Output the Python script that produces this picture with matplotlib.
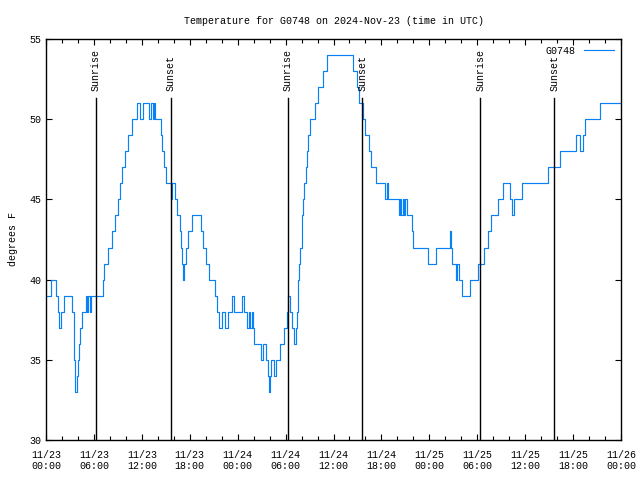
import matplotlib
matplotlib.use("Agg")
import matplotlib.pyplot as plt
from matplotlib.ticker import MultipleLocator

# temperature readings: hours since 11/23 00:00 UTC, degrees F (value holds until next entry)
hours = [0.15, 0.6, 1.27, 1.52, 1.65, 1.85, 2.2, 3.3, 3.45, 3.55, 3.62, 3.69, 3.82, 3.99,
         4.15, 4.28, 4.49, 4.99, 5.15, 5.3, 5.45, 5.6, 7.08, 7.2, 7.75, 8.29, 8.58, 8.96,
         9.25, 9.54, 9.84, 10.21, 10.71, 11.45, 11.72, 12.1, 12.85, 13.15, 13.35, 13.5, 13.7,
         14.35, 14.55, 14.8, 15.05, 15.6, 15.8, 16.2, 16.45, 16.8, 16.95, 17.05,
         17.12, 17.3, 17.55, 17.8, 18.25, 19.35, 19.6, 20.0, 20.4, 21.15, 21.35, 21.7, 22.05,
         22.45, 22.85, 23.35, 23.6, 24.6, 24.85, 25.2, 25.4, 25.55, 25.75, 25.9, 26.1, 26.9,
         27.2, 27.5, 27.8, 27.95, 28.05, 28.15, 28.6, 28.85, 29.3, 29.8, 30.2, 30.35, 30.5,
         30.75, 31.0, 31.25, 31.4, 31.55, 31.7, 31.85, 32.0, 32.2, 32.35, 32.5, 32.65, 32.85,
         33.0, 33.7, 34.1, 34.7, 35.2, 38.45, 39.0, 39.2, 39.75, 39.9, 40.5, 40.7, 41.3,
         42.45, 42.65, 42.85, 44.2, 44.35, 44.5, 44.65, 44.85, 45.0, 45.15, 45.85,
         46.0, 47.85, 48.85, 50.55, 50.7, 50.8, 51.3, 51.5, 51.7, 52.1, 53.1, 54.1, 54.8,
         55.3, 55.7, 56.6, 57.2, 58.05, 58.35, 58.65, 59.6, 62.85, 64.35, 66.4, 66.9, 67.3,
         67.5, 69.4, 72.0]
temps = [39, 40, 39, 38, 37, 38, 39, 38, 36, 35, 34, 33, 34, 35,
         36, 37, 38, 39, 38, 39, 38, 39, 40, 41, 42, 43, 44, 45,
         46, 47, 48, 49, 50, 51, 50, 51, 50, 51, 50, 51, 50,
         49, 48, 47, 46, 45, 46, 45, 44, 43, 42, 41,
         40, 41, 42, 43, 44, 43, 42, 41, 40, 39, 38, 37, 38,
         37, 38, 39, 38, 39, 38, 37, 38, 37, 38, 37, 36, 35,
         36, 35, 34, 33, 34, 35, 34, 35, 36, 37, 38, 39, 38,
         37, 36, 37, 38, 40, 41, 42, 44, 45, 46, 47, 48, 49,
         50, 51, 52, 53, 54, 53, 52, 51, 50, 49, 48, 47, 46,
         45, 46, 45, 44, 45, 44, 45, 44, 45, 44, 43,
         42, 41, 42, 43, 42, 41, 40, 41, 40, 39, 40, 41, 42,
         43, 44, 45, 46, 45, 44, 45, 46, 47, 48, 49, 48, 49,
         50, 51, 51]

sun_hours = [6.24, 15.64, 30.3, 39.58, 54.36, 63.64]
sun_labels = ["Sunrise", "Sunset", "Sunrise", "Sunset", "Sunrise", "Sunset"]

tick_hours = [0, 6, 12, 18, 24, 30, 36, 42, 48, 54, 60, 66, 72]
tick_labels = ["11/23\n00:00", "11/23\n06:00", "11/23\n12:00", "11/23\n18:00",
               "11/24\n00:00", "11/24\n06:00", "11/24\n12:00", "11/24\n18:00",
               "11/25\n00:00", "11/25\n06:00", "11/25\n12:00", "11/25\n18:00",
               "11/26\n00:00"]

plt.rcParams['font.family'] = ['Liberation Mono', 'DejaVu Sans Mono']
plt.rcParams['font.size'] = 7.2

fig = plt.figure(figsize=(6.4, 4.8), dpi=100)
ax = fig.add_axes([46/640, 40/480, 575/640, 401/480])

ax.plot(hours, temps, drawstyle='steps-post', color='#0a80f5', lw=0.85, label='G0748')

for h, lab in zip(sun_hours, sun_labels):
    ax.plot([h, h], [0, 0.852], color='black', lw=1.0, transform=ax.get_xaxis_transform())
    ax.text(h, 0.87, lab, rotation=90, ha='center', va='bottom',
            transform=ax.get_xaxis_transform())

ax.set_xlim(0, 72)
ax.set_ylim(30, 55)
ax.set_xticks(tick_hours)
ax.set_xticklabels(tick_labels, linespacing=1.15)
ax.xaxis.set_minor_locator(MultipleLocator(2))
ax.yaxis.set_major_locator(MultipleLocator(5))
ax.tick_params(which='both', direction='in', top=True, right=True, width=0.8)
ax.tick_params(which='major', length=4)
ax.tick_params(axis='x', which='major', pad=7)
ax.tick_params(which='minor', length=3)
for s in ax.spines.values():
    s.set_linewidth(1.0)

ax.set_ylabel('degrees F', labelpad=8)
ax.set_title('Temperature for G0748 on 2024-Nov-23 (time in UTC)', fontsize=7.2, pad=11)

ax.legend(loc='upper right', frameon=False, markerfirst=False, handlelength=3.0,
          borderaxespad=0.3, handletextpad=0.8)

fig.savefig('out.png', dpi=100)
